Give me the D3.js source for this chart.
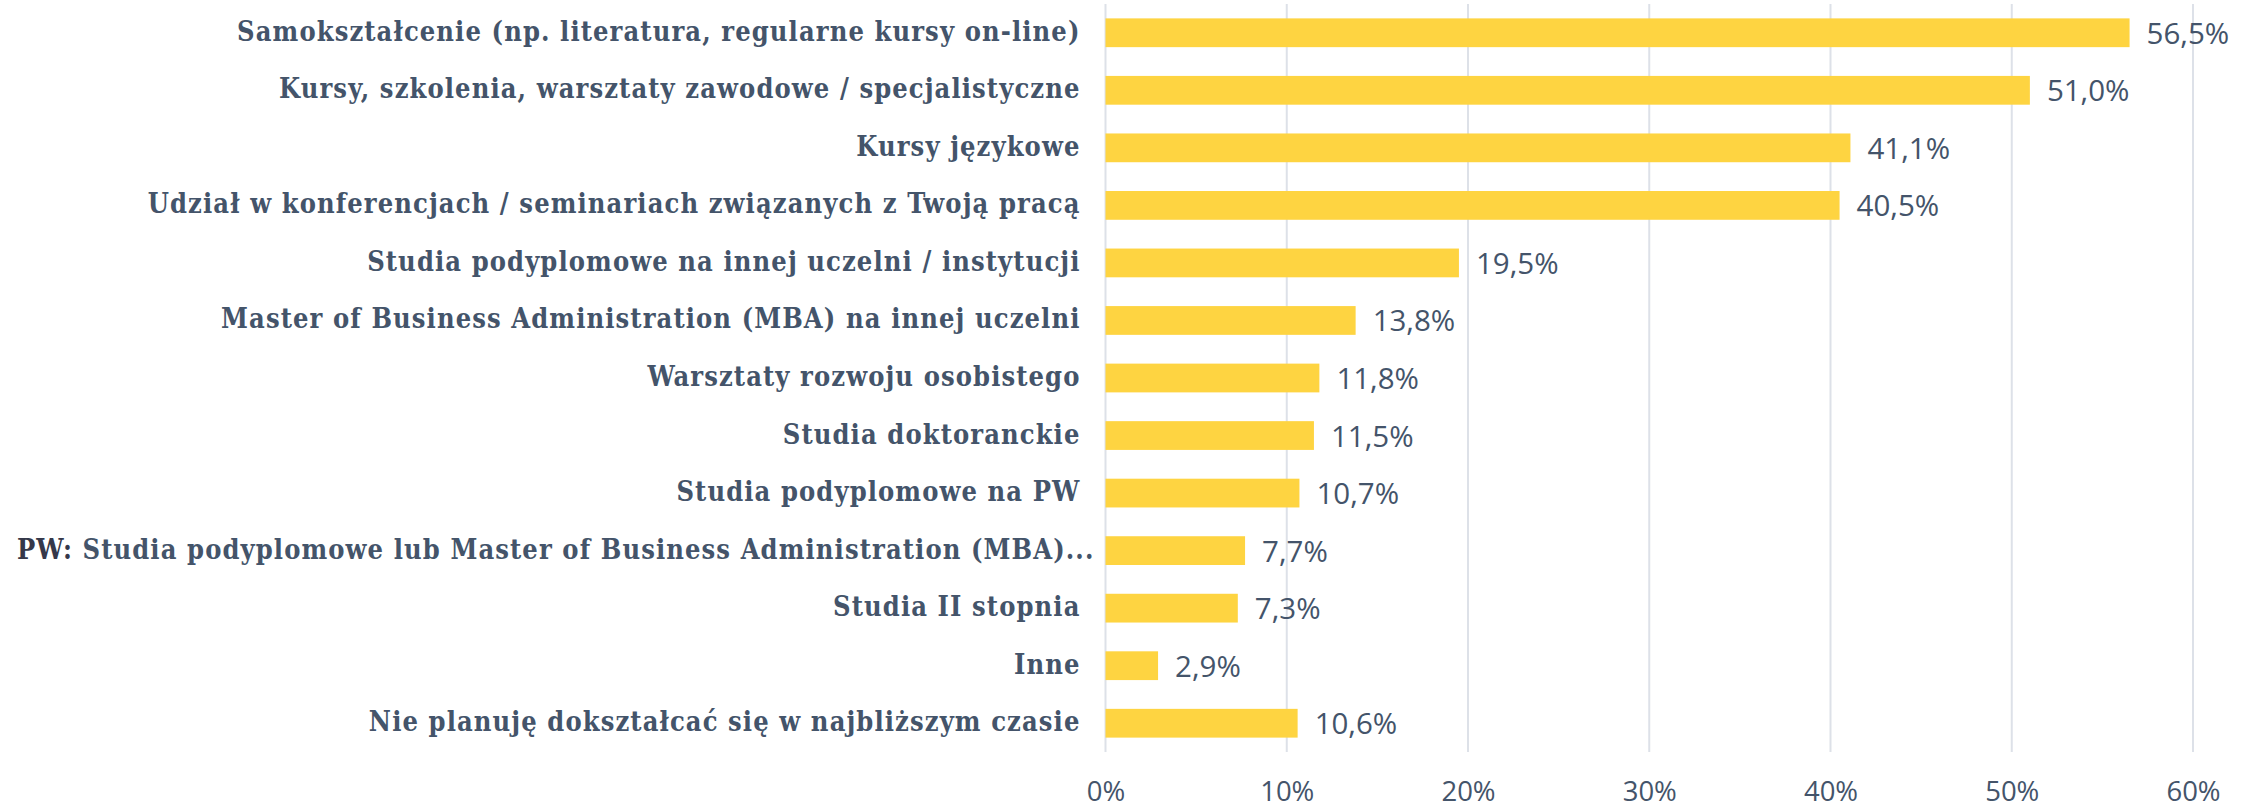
<!DOCTYPE html>
<html>
<head>
<meta charset="utf-8">
<script src="https://cdn.jsdelivr.net/npm/d3@7"></script>
<style>
  body { margin: 0; background: #fff; }
</style>
</head>
<body>
<div id="chart"></div>
<script>
// Data
const categories = [
  'Samokształcenie (np. literatura, regularne kursy on-line)',
  'Kursy, szkolenia, warsztaty zawodowe / specjalistyczne',
  'Kursy językowe',
  'Udział w konferencjach / seminariach związanych z Twoją pracą',
  'Studia podyplomowe na innej uczelni / instytucji',
  'Master of Business Administration (MBA) na innej uczelni',
  'Warsztaty rozwoju osobistego',
  'Studia doktoranckie',
  'Studia podyplomowe na PW',
  'PW: Studia podyplomowe lub Master of Business Administration (MBA)...',
  'Studia II stopnia',
  'Inne',
  'Nie planuję dokształcać się w najbliższym czasie'
];
const values = [56.5, 51.0, 41.1, 40.5, 19.5, 13.8, 11.8, 11.5, 10.7, 7.7, 7.3, 2.9, 10.6];
const xTicks = [0, 10, 20, 30, 40, 50, 60];

function draw() {
  const dimensions = {
    width: 2259,
    height: 808,
    margin: { top: 4, bottom: 56, left: 1105.5, right: 66 }
  };
  dimensions.ctrWidth = dimensions.width - dimensions.margin.left - dimensions.margin.right;
  dimensions.ctrHeight = dimensions.height - dimensions.margin.top - dimensions.margin.bottom;

  const textColor = '#44546a';

  const svg = d3.select('#chart')
    .append('svg')
    .attr('width', dimensions.width)
    .attr('height', dimensions.height)

  const ctr = svg.append('g')
    .attr('transform', `translate(${dimensions.margin.left}, ${dimensions.margin.top})`)

  // Scales
  const xScale = d3.scaleLinear()
    .domain([0, 60])
    .range([0, dimensions.ctrWidth])

  const yScale = d3.scaleBand()
    .domain(categories)
    .range([0, dimensions.ctrHeight])
    .paddingInner(0.5)
    .paddingOuter(0.25)

  // Gridlines
  ctr.append('g')
    .selectAll('line')
    .data(xTicks)
    .join('line')
    .attr('x1', d => xScale(d))
    .attr('x2', d => xScale(d))
    .attr('y1', 0)
    .attr('y2', dimensions.ctrHeight)
    .attr('stroke', '#dde1e8')
    .attr('stroke-width', 2)

  // X axis labels
  const xAxis = d3.axisBottom(xScale)
    .tickValues(xTicks)
    .tickFormat(d => `${d}%`)
    .tickSize(0)
    .tickPadding(26)

  const xAxisG = ctr.append('g')
    .attr('transform', `translate(0, ${dimensions.ctrHeight})`)
    .call(xAxis)
  xAxisG.select('.domain').remove()
  xAxisG.selectAll('text')
    .attr('dy', null)
    .attr('y', 49)
    .attr('font-family', '"Open Sans", sans-serif')
    .attr('font-size', '27.5px')
    .attr('fill', textColor)

  // Bars
  ctr.selectAll('rect.bar')
    .data(values)
    .join('rect')
    .attr('class', 'bar')
    .attr('x', 0)
    .attr('y', (d, i) => yScale(categories[i]))
    .attr('width', d => xScale(d))
    .attr('height', yScale.bandwidth())
    .attr('fill', '#fed441')

  // Value labels
  ctr.selectAll('text.value')
    .data(values)
    .join('text')
    .attr('class', 'value')
    .attr('x', d => xScale(d) + 17)
    .attr('y', (d, i) => yScale(categories[i]) + yScale.bandwidth() / 2 + 11)
    .attr('font-family', '"Open Sans", sans-serif')
    .attr('font-size', '29.5px')
    .attr('fill', textColor)
    .text(d => d.toFixed(1).replace('.', ',') + '%')

  // Category labels
  const labels = ctr.selectAll('text.cat')
    .data(categories)
    .join('text')
    .attr('class', 'cat')
    .attr('x', -25)
    .attr('y', d => yScale(d) + yScale.bandwidth() / 2 + 8)
    .attr('text-anchor', 'end')
    .attr('font-family', '"DejaVu Serif Condensed", "DejaVu Serif", serif')
    .attr('font-weight', 'bold')
    .attr('font-size', '27px')
    .attr('letter-spacing', '1.1px')
    .attr('fill', textColor)

  labels.each(function (d) {
    const t = d3.select(this)
    if (d.startsWith('PW:')) {
      t.append('tspan').attr('fill', '#35384a').text('PW:')
      t.append('tspan').text(d.slice(3))
    } else {
      t.text(d)
    }
    // keep long labels inside the left edge
    const w = this.getComputedTextLength()
    const leftEdge = 17 - dimensions.margin.left
    if (-25 - w < leftEdge) {
      t.attr('text-anchor', 'start').attr('x', leftEdge)
    }
  })
}

draw()
</script>
</body>
</html>
